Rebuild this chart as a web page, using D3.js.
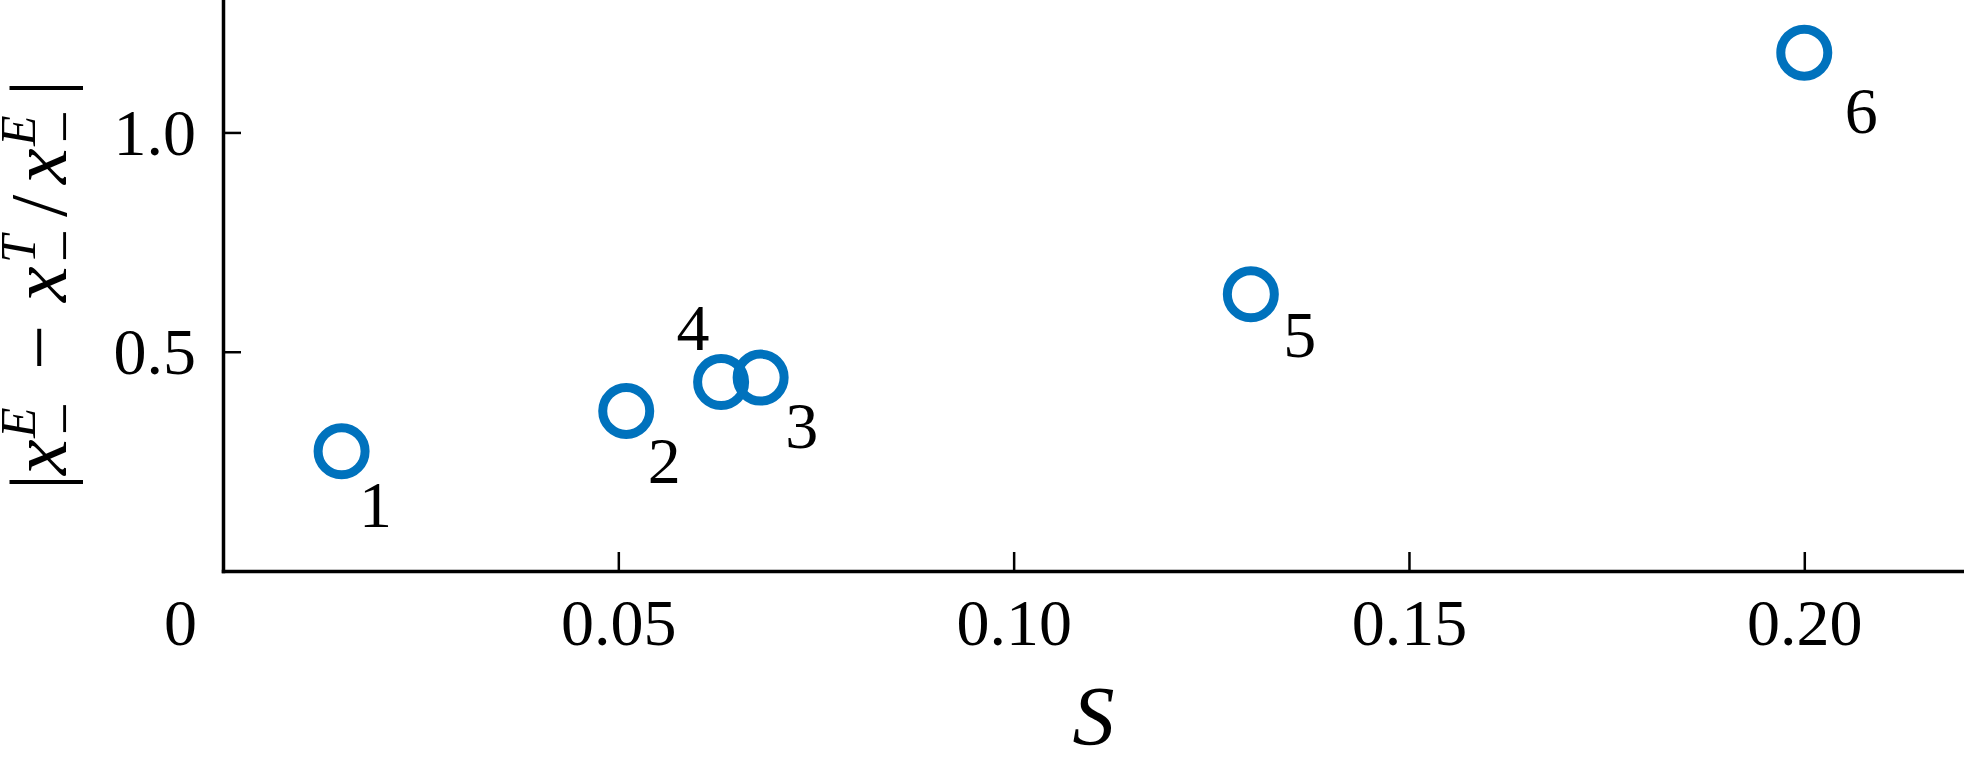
<!DOCTYPE html>
<html>
<head>
<meta charset="utf-8">
<script src="https://cdn.jsdelivr.net/npm/d3@7"></script>
<style>
	body { margin: 0; background: #fff; }
	svg { display: block; }
	text { font-family: 'Liberation Serif', 'Times New Roman', serif; fill: #000; }
</style>
</head>
<body>
<div id="chart"></div>
<script>
// case number, S and relative error
var cases = ['1', '2', '3', '4', '5', '6'];
var sValues = [0.015, 0.051, 0.068, 0.063, 0.130, 0.200];
var errValues = [0.273, 0.365, 0.441, 0.431, 0.631, 1.182];

var xTicks = [0, 0.05, 0.10, 0.15, 0.20];
var xTickLabels = ['0', '0.05', '0.10', '0.15', '0.20'];
var yTicks = [0.5, 1.0];
var yTickLabels = ['0.5', '1.0'];

// where each case number sits relative to its marker (px)
var labelNudge = [[34, 76], [38, 72], [41, 70], [-28, -32], [49, 63], [57, 80]];

var width = 1964, height = 765;

var svg = d3.select('#chart').append('svg')
	.attr('width', width)
	.attr('height', height);

var xScale = d3.scaleLinear()
	.domain([0, 0.2202])
	.range([223, width]);

var yScale = d3.scaleLinear()
	.domain([0, 1.302])
	.range([571, 0]);

var xAxis = d3.axisBottom(xScale)
	.tickValues(xTicks)
	.tickFormat(function(d, i) { return xTickLabels[i]; })
	.tickSizeInner(-19)
	.tickSizeOuter(0);

var yAxis = d3.axisLeft(yScale)
	.tickValues(yTicks)
	.tickFormat(function(d, i) { return yTickLabels[i]; })
	.tickSizeInner(-18)
	.tickSizeOuter(0);

var xAxisG = svg.append('g')
	.attr('transform', 'translate(0,' + yScale(0) + ')')
	.call(xAxis);

var yAxisG = svg.append('g')
	.attr('transform', 'translate(' + xScale(0) + ',0)')
	.call(yAxis);

[xAxisG, yAxisG].forEach(function(g) {
	g.attr('font-family', null).attr('font-size', null);
	g.select('.domain')
		.attr('stroke', '#000')
		.attr('stroke-width', 3.5)
		.attr('stroke-linecap', 'square');
	g.selectAll('.tick line')
		.attr('stroke', '#000')
		.attr('stroke-width', 2.5);
	g.selectAll('.tick text')
		.style('font-size', '66px')
		.attr('fill', '#000');
});

xAxisG.selectAll('.tick text')
	.attr('y', 74)
	.attr('dy', 0);

// the origin label sits left of the y axis, no tick mark there
xAxisG.selectAll('.tick')
	.filter(function(d) { return d === 0; })
	.each(function() {
		d3.select(this).select('line').remove();
		d3.select(this).select('text').attr('x', -43);
	});

yAxisG.selectAll('.tick text')
	.attr('x', -27)
	.attr('dy', '0.33em');

// markers
var points = sValues.map(function(s, i) {
	return { s: s, err: errValues[i], name: cases[i], nudge: labelNudge[i] };
});

svg.append('g').selectAll('circle')
	.data(points)
	.enter().append('circle')
	.attr('cx', function(d) { return xScale(d.s); })
	.attr('cy', function(d) { return yScale(d.err); })
	.attr('r', 23.5)
	.attr('fill', 'none')
	.attr('stroke', '#0072BD')
	.attr('stroke-width', 9);

svg.append('g').selectAll('text')
	.data(points)
	.enter().append('text')
	.attr('x', function(d) { return xScale(d.s) + d.nudge[0]; })
	.attr('y', function(d) { return yScale(d.err) + d.nudge[1]; })
	.attr('text-anchor', 'middle')
	.style('font-size', '66px')
	.text(function(d) { return d.name; });

// x axis title
svg.append('text')
	.attr('x', (xScale.range()[0] + xScale.range()[1]) / 2)
	.attr('y', 745)
	.attr('text-anchor', 'middle')
	.style('font-size', '84px')
	.style('font-style', 'italic')
	.text('S');

// y axis title |x_-^E - x_-^T / x_-^E|, laid out piece by piece along the rotated baseline
var yTitle = [
	{ t: '|', at: -8, dy: 0, size: 80, it: false },
	{ t: 'x', at: 7, dy: 0, size: 80, it: true },
	{ t: 'E', at: 44, dy: -31, size: 50, it: true },
	{ t: '\u2212', at: 47, dy: 18, size: 58, it: false },
	{ t: '\u2212', at: 112, dy: 0, size: 80, it: false },
	{ t: 'x', at: 180, dy: 0, size: 80, it: true },
	{ t: 'T', at: 219, dy: -31, size: 50, it: true },
	{ t: '\u2212', at: 220, dy: 18, size: 58, it: false },
	{ t: '/', at: 265, dy: 0, size: 80, it: false },
	{ t: 'x', at: 298, dy: 0, size: 80, it: true },
	{ t: 'E', at: 336, dy: -31, size: 50, it: true },
	{ t: '\u2212', at: 339, dy: 18, size: 58, it: false },
	{ t: '|', at: 386, dy: 0, size: 80, it: false }
];

var yTitleG = svg.append('g')
	.attr('transform', 'translate(66,482) rotate(-90)');

yTitleG.selectAll('text')
	.data(yTitle)
	.enter().append('text')
	.attr('x', function(d) { return d.at; })
	.attr('y', function(d) { return d.dy; })
	.style('font-size', function(d) { return d.size + 'px'; })
	.style('font-style', function(d) { return d.it ? 'italic' : 'normal'; })
	.text(function(d) { return d.t; });
</script>
</body>
</html>
